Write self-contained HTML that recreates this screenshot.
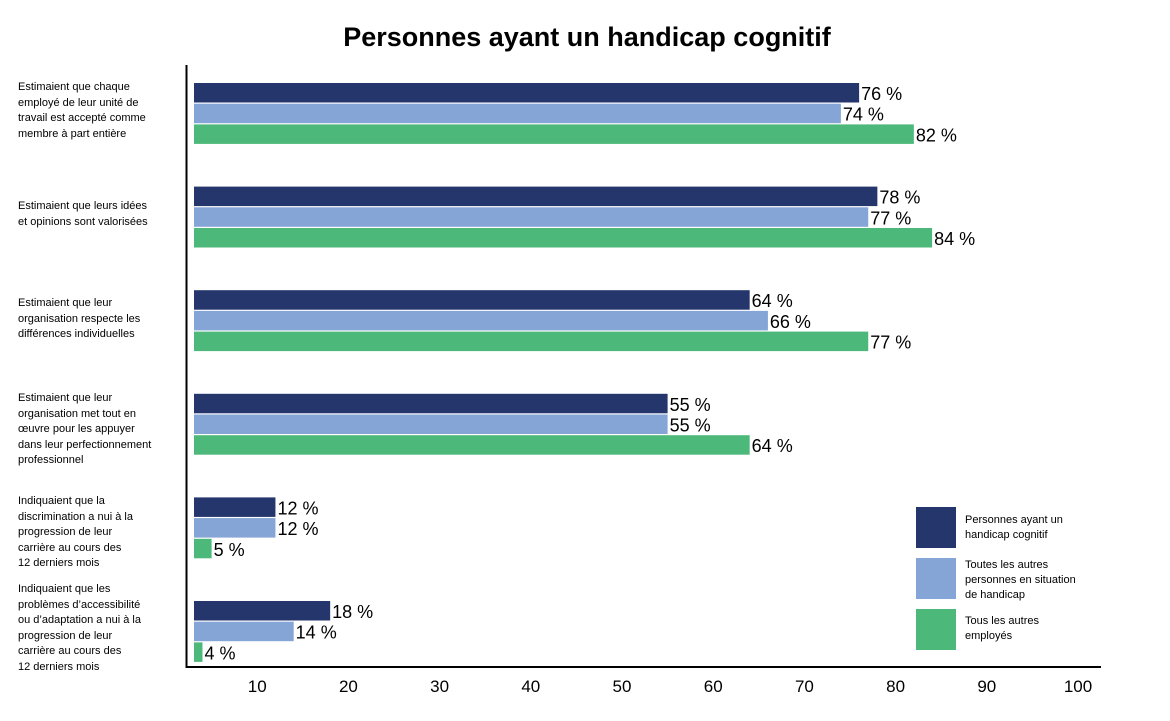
<!DOCTYPE html>
<html><head><meta charset="utf-8">
<style>
body{margin:0;background:#fff;font-family:"Liberation Sans",Arial,sans-serif;}
#wrap{position:relative;width:1170px;height:721px;overflow:hidden;}
.cat{position:absolute;left:18px;font-size:11px;line-height:15.5px;color:#000;width:160px;}
</style></head><body>
<div id="wrap">
<svg id="svg" width="1170" height="721" style="position:absolute;left:0;top:0">
<text x="587" y="46" text-anchor="middle" font-size="27" font-weight="bold" font-family="Liberation Sans, Arial, sans-serif">Personnes ayant un handicap cognitif</text>
<line x1="186.5" y1="65" x2="186.5" y2="668" stroke="#000" stroke-width="2"/>
<line x1="186" y1="667" x2="1101" y2="667" stroke="#000" stroke-width="2"/>
<g id="bars"></g>
<g id="ticks"></g>
<g>
<rect x="916" y="507" width="40" height="41" fill="#24366b"/>
<rect x="916" y="558" width="40" height="41" fill="#84a5d6"/>
<rect x="916" y="609" width="40" height="41" fill="#4cb97a"/>
<g font-size="11" font-family="Liberation Sans, Arial, sans-serif">
<text x="965" y="523"><tspan x="965">Personnes ayant un</tspan><tspan x="965" dy="15">handicap cognitif</tspan></text>
<text x="965" y="568"><tspan x="965">Toutes les autres</tspan><tspan x="965" dy="15">personnes en situation</tspan><tspan x="965" dy="15">de handicap</tspan></text>
<text x="965" y="624"><tspan x="965">Tous les autres</tspan><tspan x="965" dy="15">employés</tspan></text>
</g></g>
</svg>
<div class="cat" style="top:80px">Estimaient que chaque<br>employé de leur unité de<br>travail est accepté comme<br>membre à part entière</div>
<div class="cat" style="top:199px">Estimaient que leurs idées<br>et opinions sont valorisées</div>
<div class="cat" style="top:296px">Estimaient que leur<br>organisation respecte les<br>différences individuelles</div>
<div class="cat" style="top:391px">Estimaient que leur<br>organisation met tout en<br>œuvre pour les appuyer<br>dans leur perfectionnement<br>professionnel</div>
<div class="cat" style="top:494px">Indiquaient que la<br>discrimination a nui à la<br>progression de leur<br>carrière au cours des<br>12 derniers mois</div>
<div class="cat" style="top:582px">Indiquaient que les<br>problèmes d’accessibilité<br>ou d’adaptation a nui à la<br>progression de leur<br>carrière au cours des<br>12 derniers mois</div>
</div>
<script>
const categories=["accepte","idees","differences","perfectionnement","discrimination","accessibilite"];
const cognitive=[76,78,64,55,12,18];
const otherDisability=[74,77,66,55,12,14];
const otherEmployees=[82,84,77,64,5,4];
const tickLabels=[10,20,30,40,50,60,70,80,90,100];
const NS="http://www.w3.org/2000/svg";
function x(v){return 166+v*9.12;}
const barStart=194, groupTop=83, groupPitch=103.6, barPitch=20.7, barH=19.5;
const series=[cognitive,otherDisability,otherEmployees];
const colors=["#24366b","#84a5d6","#4cb97a"];
const snames=["cognitive","other-disability","other-employees"];
const bars=document.getElementById('bars');
categories.forEach((c,i)=>{
  series.forEach((s,j)=>{
    const y=groupTop+i*groupPitch+j*barPitch;
    const end=Math.max(x(s[i]),barStart+8);
    const r=document.createElementNS(NS,'rect');
    
    
    r.setAttribute('x',barStart);r.setAttribute('y',y);
    r.setAttribute('width',end-barStart);r.setAttribute('height',barH);
    r.setAttribute('fill',colors[j]);
    bars.appendChild(r);
    const t=document.createElementNS(NS,'text');
    
    
    t.setAttribute('x',end+2);t.setAttribute('y',y+17);
    t.setAttribute('font-size','18');
    t.setAttribute('font-family','Liberation Sans, Arial, sans-serif');
    t.textContent=s[i]+' %';
    bars.appendChild(t);
  });
});
const ticks=document.getElementById('ticks');
tickLabels.forEach(v=>{
  const t=document.createElementNS(NS,'text');
  
  
  t.setAttribute('x',x(v));t.setAttribute('y',692);
  t.setAttribute('text-anchor','middle');
  t.setAttribute('font-size','17');
  t.setAttribute('font-family','Liberation Sans, Arial, sans-serif');
  t.textContent=v;
  ticks.appendChild(t);
});
</script>
</body></html>
